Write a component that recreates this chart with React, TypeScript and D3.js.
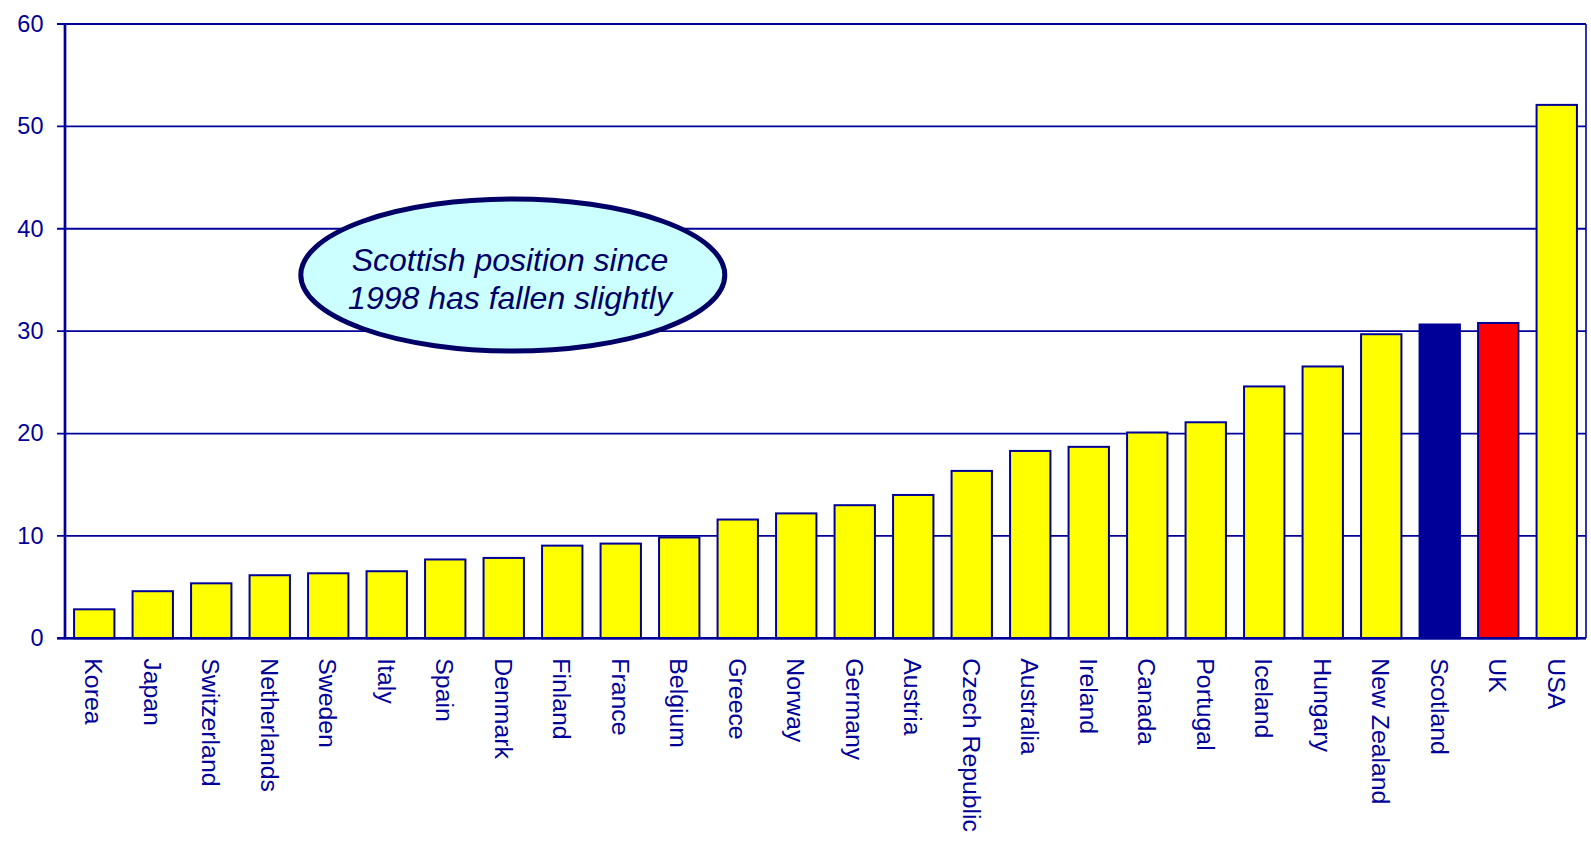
import React from "react";
import * as d3 from "d3";

const categories = [
  "Korea", "Japan", "Switzerland", "Netherlands", "Sweden", "Italy", "Spain",
  "Denmark", "Finland", "France", "Belgium", "Greece", "Norway", "Germany",
  "Austria", "Czech Republic", "Australia", "Ireland", "Canada", "Portugal",
  "Iceland", "Hungary", "New Zealand", "Scotland", "UK", "USA",
];
const values = [
  2.83, 4.6, 5.37, 6.16, 6.35, 6.55, 7.7, 7.85, 9.05, 9.25, 9.85, 11.6,
  12.2, 13.0, 14.0, 16.35, 18.3, 18.7, 20.1, 21.1, 24.6, 26.55, 29.7, 30.65,
  30.8, 52.1,
];
const barColors: Record<string, string> = { Scotland: "#000099", UK: "#FF0000" };
const defaultColor = "#FFFF00";
const yTicks = [0, 10, 20, 30, 40, 50, 60];
const noteLines = ["Scottish position since", "1998 has fallen slightly"];

const W = 1591;
const H = 843;
const left = 65;
const right = 1586;
const top = 24;
const bottom = 638.3;
const navy = "#000099";
const font = "Arial, 'Liberation Sans', sans-serif";

export default function App() {
  const x = d3
    .scaleBand<string>()
    .domain(categories)
    .range([left, right])
    .paddingInner(0.31)
    .paddingOuter(0.155);
  const y = d3.scaleLinear().domain([0, 60]).range([bottom, top]);

  return (
    <svg
      width={W}
      height={H}
      style={{ position: "absolute", left: 0, top: 0, background: "#fff" }}
    >
      {yTicks.map((t) => (
        <g key={t}>
          <line
            x1={left - 8}
            x2={right}
            y1={y(t)}
            y2={y(t)}
            stroke={navy}
            strokeWidth={t === 60 ? 2.2 : 1.8}
          />
          <text
            x={43.5}
            y={y(t)}
            dy="0.33em"
            textAnchor="end"
            fontFamily={font}
            fontSize={23.5}
            fill={navy}
          >
            {t}
          </text>
        </g>
      ))}
      <line x1={right} x2={right} y1={top} y2={bottom} stroke={navy} strokeWidth={1.6} />
      {categories.map((c, i) => (
        <rect
          key={c}
          x={x(c)!}
          y={y(values[i])}
          width={x.bandwidth()}
          height={bottom - y(values[i])}
          fill={barColors[c] || defaultColor}
          stroke={navy}
          strokeWidth={2}
        />
      ))}
      <line x1={left} x2={left} y1={top - 1} y2={bottom + 1} stroke={navy} strokeWidth={2.7} />
      <line x1={left - 8} x2={right} y1={bottom} y2={bottom} stroke={navy} strokeWidth={2.6} />
      {categories.map((c) => {
        const cx = x(c)! + x.bandwidth() / 2;
        const ly = bottom + 20;
        return (
          <text
            key={c}
            transform={`translate(${cx},${ly}) rotate(90)`}
            dy="0.36em"
            textAnchor="start"
            fontFamily={font}
            fontSize={24.8}
            fill={navy}
          >
            {c}
          </text>
        );
      })}
      <ellipse
        cx={512.8}
        cy={275}
        rx={212}
        ry={76}
        fill="#CCFFFF"
        stroke="#000066"
        strokeWidth={5}
      />
      {noteLines.map((l, i) => (
        <text
          key={i}
          x={510}
          y={270.7 + i * 38.7}
          textAnchor="middle"
          fontFamily={font}
          fontStyle="italic"
          fontSize={32}
          fill="#000066"
        >
          {l}
        </text>
      ))}
    </svg>
  );
}
